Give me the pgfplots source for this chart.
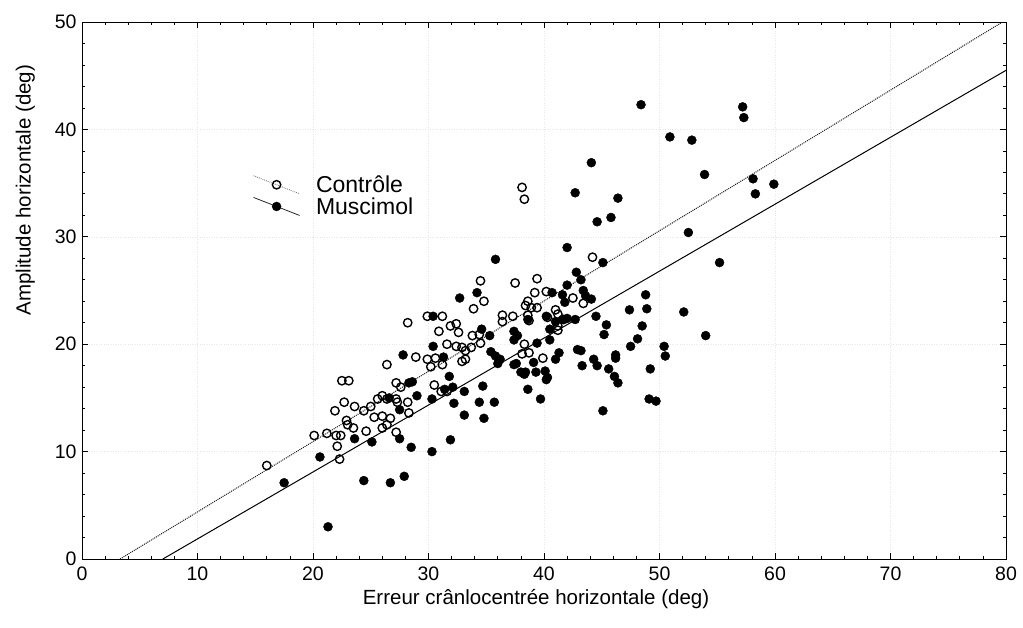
\documentclass[border=0pt]{standalone}
\usepackage{pgfplots}
\pgfplotsset{compat=1.18}
\usepackage{fontspec}
\setmainfont{Liberation Sans}
\pgfplotsset{
  ctrlleg/.style={legend image code/.code={
    \draw[gray, densely dotted, line width=0.9pt] (0pt,9pt) -- (46pt,-9pt);
    \draw[##1] plot coordinates {(23pt,0pt)};
  }},
  muscleg/.style={legend image code/.code={
    \draw[black!85, line width=0.8pt] (0pt,9pt) -- (46pt,-9pt);
    \draw[##1] plot coordinates {(23pt,0pt)};
  }},
}
\begin{document}
\begin{tikzpicture}
\begin{axis}[
  at={(0,0)}, anchor=south west,
  scale only axis, width=924pt, height=537pt,
  xmin=0, xmax=80, ymin=0, ymax=50,
  xtick={0,10,...,80}, ytick={0,10,...,50},
  minor tick num=4,
  tick align=inside,
  major tick length=6pt, minor tick length=3pt,
  axis line style={black, line width=0.9pt},
  every tick/.style={black, line width=0.7pt},
  grid=major,
  major grid style={gray!18, dotted, line width=0.6pt},
  /pgf/number format/assume math mode=true,
  tick label style={font=\fontsize{19.5}{19.5}\selectfont},
  xticklabel style={yshift=-4pt},
  yticklabel style={xshift=-2pt},
  xlabel={Erreur crânlocentrée horizontale (deg)},
  ylabel={Amplitude horizontale (deg)},
  label style={font=\fontsize{20.5}{20.5}\selectfont},
  xlabel style={yshift=-2pt, xshift=-8pt},
  ylabel style={at={(ticklabel cs:0.687)}, yshift=13pt},
  legend style={at={(axis cs:14.8,35.9)}, anchor=north west, draw=none, fill=none,
    font=\fontsize{23}{23}\selectfont, row sep=-0.5pt, column sep=14pt, inner sep=0pt},
  legend cell align=left,
]
\addplot[black!90, densely dotted, line width=1pt, forget plot] coordinates {(3.3,0) (80,50.2)};
\addplot[black, line width=1pt, forget plot] coordinates {(7.0,0) (80,45.5)};

\addplot[only marks, mark=o, mark size=4.2pt, mark options={black, line width=1.4pt, fill=white}, ctrlleg] coordinates {
(16.0,8.7) (20.1,11.5) (21.2,11.7) (22.0,11.5) (22.4,11.5) (22.1,10.5) (22.3,9.3)
(22.5,16.6) (23.1,16.6) (21.9,13.8) (22.7,14.6) (23.6,14.2) (24.4,13.8) (25.0,14.2)
(25.6,14.9) (22.9,12.9) (23.5,12.2) (23.0,12.5) (24.6,11.9) (25.3,13.2) (26.0,13.3)
(26.7,13.1) (26.0,12.2) (26.4,12.5) (27.2,11.8) (26.0,15.2) (26.4,14.9) (27.2,14.9)
(27.3,14.6) (28.2,14.6) (28.3,13.6) (27.2,16.4) (27.6,16.0) (26.4,18.1) (28.2,22.0)
(28.9,18.8) (29.9,18.6) (30.6,18.7) (31.2,18.1) (30.2,17.9) (30.5,16.2) (31.1,15.6)
(31.6,15.6) (29.9,22.6) (31.2,22.6) (30.9,21.2) (31.9,21.7) (32.4,21.9) (32.6,21.1)
(31.6,20.0) (32.4,19.8) (32.9,19.7) (33.2,19.4) (33.7,19.7) (33.2,18.6) (32.9,18.4)
(33.8,20.8) (34.4,20.9) (34.5,20.1) (33.9,23.3) (34.8,24.0) (34.5,25.9) (37.5,25.7)
(39.4,26.1) (38.1,34.6) (38.3,33.5) (44.2,28.1) (39.2,24.8) (40.2,24.9) (42.5,24.3)
(43.4,23.8) (38.6,24.0) (38.9,23.4) (39.4,23.4) (38.4,23.6) (41.0,23.2) (41.2,22.8)
(38.6,22.7) (38.7,22.2) (36.4,22.7) (37.3,22.6) (36.4,22.1) (41.2,21.7) (41.2,21.3)
(38.3,20.0) (38.1,19.1) (38.7,19.2) (39.9,18.7) (40.3,22.5) (41.7,22.3)
};
\addlegendentry{Contrôle}

\addplot[only marks, mark=*, mark size=4.5pt, mark options={black, fill=black}, muscleg] coordinates {
(17.5,7.1) (20.6,9.5) (21.3,3.0) (23.6,11.2) (25.1,10.9) (24.4,7.3) (26.7,7.1)
(27.9,7.7) (27.5,11.2) (28.5,10.4) (30.3,10.0) (31.9,11.1) (33.1,13.4) (34.8,13.1)
(27.5,13.9) (26.6,15.0) (29.0,15.2) (30.3,14.9) (31.4,15.8) (32.1,16.0) (33.1,15.6)
(34.7,16.1) (32.2,14.5) (34.4,14.6) (35.7,14.6) (28.3,16.4) (28.6,16.5) (27.8,19.0)
(31.8,17.0) (30.4,19.8) (31.3,18.8) (30.4,22.6) (32.7,24.3) (34.2,24.8) (35.8,27.9)
(34.6,21.4) (35.3,20.8) (37.4,21.2) (37.4,20.4) (37.7,20.8) (38.6,22.3) (35.4,19.3)
(36.2,18.6) (36.0,18.2) (37.6,18.2) (38.0,17.4) (38.4,17.4) (39.1,18.3) (39.3,17.4)
(40.1,17.5) (40.3,16.9) (38.6,15.8) (39.7,14.9) (39.4,20.1) (40.5,20.4) (40.5,21.4)
(40.2,22.6) (41.0,22.1) (41.6,22.3) (42.0,22.4) (42.7,22.3) (41.3,19.2) (41.0,18.6)
(42.9,19.5) (43.2,19.4) (43.3,18.0) (44.3,18.6) (44.6,18.0) (45.6,17.7) (46.1,17.0)
(46.4,16.4) (46.2,19.0) (46.2,18.7) (47.5,19.8) (48.1,20.5) (48.5,21.7) (49.2,17.7)
(49.1,14.9) (49.7,14.7) (45.1,13.8) (44.5,22.6) (45.4,21.8) (45.2,20.9) (47.4,23.2)
(48.9,23.3) (48.8,24.6) (52.1,23.0) (41.6,24.6) (41.8,23.9) (40.7,24.8) (43.4,25.0)
(44.1,24.2) (43.6,24.5) (42.0,25.5) (42.8,26.7) (43.2,26.0) (45.1,27.6) (42.0,29.0)
(42.7,34.1) (44.1,36.9) (44.6,31.4) (45.8,31.8) (46.4,33.6) (48.4,42.3) (50.9,39.3)
(52.8,39.0) (53.9,35.8) (57.2,42.1) (57.3,41.1) (58.1,35.4) (58.3,34.0) (59.9,34.9)
(52.5,30.4) (55.2,27.6) (54.0,20.8) (50.4,19.8) (50.5,18.9) (35.8,18.9) (37.4,18.1)
(38.3,17.2) (40.2,16.7)
};
\addlegendentry{Muscimol}
\end{axis}
\pgfresetboundingbox
\path[use as bounding box] (-82pt,-68pt) rectangle (941pt,559pt);
\end{tikzpicture}
\end{document}
